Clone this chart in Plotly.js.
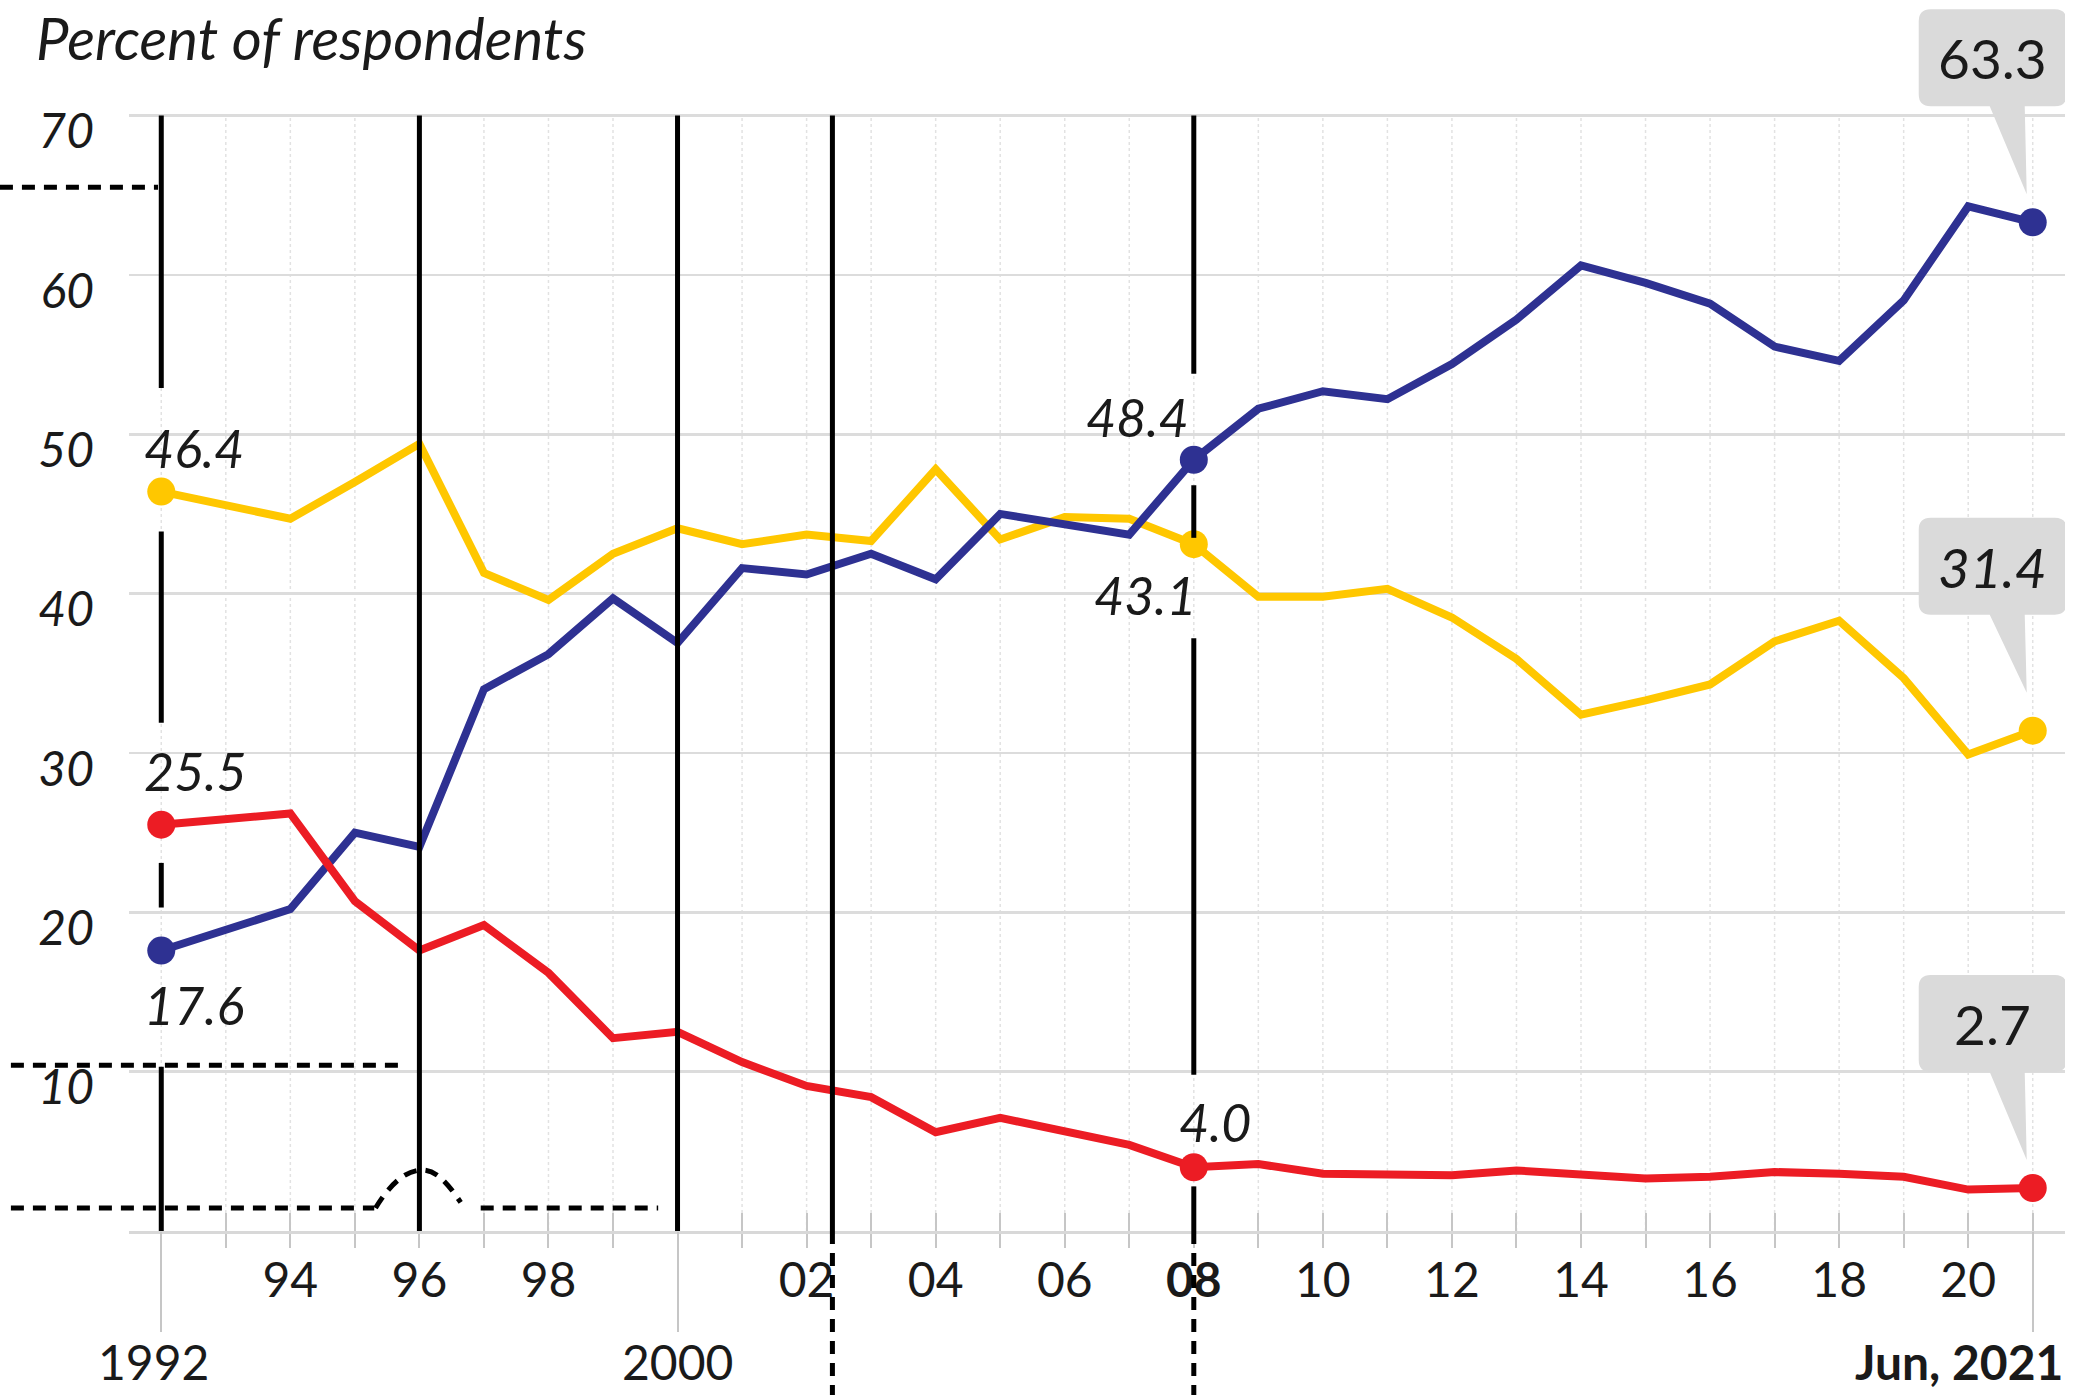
<!DOCTYPE html>
<html>
<head>
<meta charset="utf-8">
<script src="https://cdn.plot.ly/plotly-3.0.1.min.js"></script>
<style>
html,body{margin:0;padding:0;background:#ffffff;}
#chart{width:2080px;height:1395px;}
</style>
</head>
<body>
<div id="chart"></div>
<script>
// ---------------- DATA ----------------
const years = [1992,1994,1995,1996,1997,1998,1999,2000,2001,2002,2003,2004,2005,2006,2007,2008,2009,2010,2011,2012,2013,2014,2015,2016,2017,2018,2019,2020,2021];
const seriesBlue   = [17.6,20.2,25.0,24.1,34.0,36.2,39.7,36.9,41.6,41.2,42.5,40.9,45.0,44.3,43.7,48.4,51.6,52.7,52.2,54.4,57.2,60.6,59.5,58.2,55.5,54.6,58.4,64.3,63.3];
const seriesYellow = [46.4,44.7,47.0,49.4,41.3,39.6,42.5,44.1,43.1,43.7,43.3,47.8,43.4,44.8,44.7,43.1,39.8,39.8,40.3,38.5,35.9,32.4,33.3,34.3,37.0,38.3,34.7,29.9,31.4];
const seriesRed    = [25.5,26.2,20.7,17.6,19.2,16.2,12.1,12.5,10.6,9.1,8.4,6.2,7.1,6.3,5.4,4.0,4.2,3.6,3.6,3.5,3.8,3.5,3.3,3.4,3.7,3.6,3.4,2.6,2.7];

const yTickVals = [10,20,30,40,50,60,70];
const tickYears = [1992,1993,1994,1995,1996,1997,1998,1999,2000,2001,2002,2003,2004,2005,2006,2007,2008,2009,2010,2011,2012,2013,2014,2015,2016,2017,2018,2019,2020,2021];
const tickText  = ['','','94','','96','','98','','','','02','','04','','06','','<b>08</b>','','10','','12','','14','','16','','18','','20',''];
const row2Years = [1992, 2000];
const row2Text  = ['1992', '2000'];
const lastLabel = 'Jun, 2021';
const titleText = 'Percent of respondents';

// ---------------- STYLE / DECORATION ----------------
const FONT = 'Lato, "Open Sans", sans-serif';
const INK = '#1a1a1a';
const BLUE = '#2e3192', YELLOW = '#ffc700', RED = '#ec1c24';
const X_RANGE = [1991.5, 2021.5];
const Y_RANGE = [0, 77];
const px = yr => (yr - X_RANGE[0]) / (X_RANGE[1] - X_RANGE[0]);

const last = years.length - 1;
const i2008 = years.indexOf(2008);
const keyIdx = [0, i2008, last];

const traces = [];
function addSeries(vals, color) {
  traces.push({type:'scatter', mode:'lines', x:years, y:vals,
    line:{color:color, width:8}, hoverinfo:'skip', showlegend:false});
  traces.push({type:'scatter', mode:'markers', x:keyIdx.map(i=>years[i]), y:keyIdx.map(i=>vals[i]),
    marker:{color:color, size:28}, hoverinfo:'skip', showlegend:false});
}
addSeries(seriesYellow, YELLOW);
addSeries(seriesBlue, BLUE);
addSeries(seriesRed, RED);
// dummy traces so that overlay tick axes are drawn
traces.push({type:'scatter', mode:'lines', x:[X_RANGE[0]], y:[null], xaxis:'x2', yaxis:'y', hoverinfo:'skip', showlegend:false});
traces.push({type:'scatter', mode:'lines', x:[X_RANGE[0]], y:[null], xaxis:'x3', yaxis:'y', hoverinfo:'skip', showlegend:false});

const shapes = [];
// faint dotted vertical grid at each year
tickYears.forEach(yr => shapes.push({type:'line', xref:'x', yref:'y', x0:yr, x1:yr, y0:0, y1:70,
  line:{color:'#e2e2e2', width:1.5, dash:'dot'}, layer:'below'}));

// black vertical lines (segments in value units)
const blackLines = [
  {x:1992,   segs:[[70,52.9],[43.9,31.9],[23.1,20.3],[10.3,0]]},
  {x:1996,   segs:[[70,0]]},
  {x:2000,   segs:[[70,0]]},
  {x:2002.4, segs:[[70,0]]},
  {x:2008,   segs:[[70,53.8],[46.8,43.5],[37.2,9.8],[2.8,0]]}
];
blackLines.forEach(b => b.segs.forEach(s => shapes.push({type:'line', xref:'x', yref:'y',
  x0:b.x, x1:b.x, y0:s[0], y1:s[1], line:{color:'#000', width:5}, layer:'above'})));

const DASH = {color:'#000', width:5, dash:'13px,9px'};
// dashed lines below the axis
[2002.4, 2008].forEach(x => shapes.push({type:'line', xref:'x', yref:'paper', x0:x, x1:x, y0:0, y1:-0.2, line:DASH, layer:'above'}));
// dashed horizontal lines on the left
shapes.push({type:'line', xref:'paper', yref:'y', x0:px(1989.5), x1:px(1991.95), y0:65.5, y1:65.5, line:DASH, layer:'above'});
shapes.push({type:'line', xref:'paper', yref:'y', x0:px(1989.67), x1:px(1995.74), y0:10.4, y1:10.4, line:DASH, layer:'above'});
shapes.push({type:'line', xref:'paper', yref:'y', x0:px(1989.67), x1:px(1995.3), y0:1.44, y1:1.44, line:DASH, layer:'above'});
shapes.push({type:'path', xref:'x', yref:'y',
  path:'M1995.32,1.44 C1995.55,3.0 1995.8,3.83 1996.05,3.83 C1996.3,3.83 1996.5,2.6 1996.64,1.8',
  line:DASH, layer:'above'});
shapes.push({type:'line', xref:'x', yref:'y', x0:1996.95, x1:1999.7, y0:1.44, y1:1.44, line:DASH, layer:'above'});

// callout bubbles at the last point of each series (pixel offsets from the point)
function bubblePath(tipUp) {
  const L=-114, R=34, B=116, T=213, r=12;
  return `M${L+r},${T} L${R-r},${T} Q${R},${T} ${R},${T-r} L${R},${B+r} Q${R},${B} ${R-r},${B} `+
         `L-8,${B} L-6,${tipUp} L-43,${B} L${L+r},${B} Q${L},${B} ${L},${B+r} L${L},${T-r} Q${L},${T} ${L+r},${T} Z`;
}
const callouts = [
  {vals:seriesBlue, italic:false, tip:28},
  {vals:seriesYellow, italic:true, tip:38},
  {vals:seriesRed, italic:false, tip:28}
];
callouts.forEach(c => shapes.push({type:'path', xref:'x', yref:'y', xsizemode:'pixel', ysizemode:'pixel',
  xanchor:years[last], yanchor:c.vals[last], path:bubblePath(c.tip),
  fillcolor:'#dadada', line:{width:0}, layer:'above'}));

const annotations = [];
callouts.forEach(c => annotations.push({xref:'x', yref:'y', x:years[last], y:c.vals[last],
  text:c.vals[last].toFixed(1), showarrow:false, xanchor:'center', yanchor:'middle', xshift:-40, yshift:164,
  font:{family:FONT, size:55, color:INK, style:c.italic?'italic':'normal'}}));

// point labels
const pointLabels = [
  {vals:seriesYellow, i:0,     xanchor:'left',  xshift:-19, yshift:44},
  {vals:seriesRed,    i:0,     xanchor:'left',  xshift:-19, yshift:54},
  {vals:seriesBlue,   i:0,     xanchor:'left',  xshift:-19, yshift:-54},
  {vals:seriesBlue,   i:i2008, xanchor:'right', xshift:-3,  yshift:43},
  {vals:seriesYellow, i:i2008, xanchor:'right', xshift:5,   yshift:-51},
  {vals:seriesRed,    i:i2008, xanchor:'left',  xshift:-17, yshift:45}
];
pointLabels.forEach(p => annotations.push({xref:'x', yref:'y', x:years[p.i], y:p.vals[p.i],
  text:p.vals[p.i].toFixed(1), showarrow:false, xanchor:p.xanchor, yanchor:'middle', xshift:p.xshift, yshift:p.yshift,
  font:{family:FONT, size:52, color:INK, style:'italic'}}));

// second row of x labels
row2Years.forEach((yr, k) => annotations.push({xref:'x', yref:'paper', x:yr, y:0, text:row2Text[k], showarrow:false,
  xanchor:'center', yanchor:'middle', yshift:-130, xshift:(k===0?-8:0),
  font:{family:FONT, size:48, color:INK}}));
annotations.push({xref:'paper', yref:'paper', x:1, y:0, text:'<b>'+lastLabel+'</b>', showarrow:false,
  xanchor:'right', yanchor:'middle', yshift:-130, font:{family:FONT, size:48, color:INK}});

const tickGray = '#c6c6c6';
const layout = {
  width:2080, height:1395,
  margin:{l:129, r:15, t:4, b:164, pad:0},
  paper_bgcolor:'#ffffff', plot_bgcolor:'#ffffff',
  showlegend:false,
  title:{text:titleText, x:36/2080, xanchor:'left', y:1-40/1395, yanchor:'middle', xref:'container', yref:'container',
    font:{family:FONT, size:58, color:INK, style:'italic'}},
  xaxis:{range:X_RANGE, tickmode:'array', tickvals:tickYears, ticktext:tickText,
    ticks:'outside', ticklen:14, tickwidth:2, tickcolor:tickGray, ticklabelstandoff:-9,
    showgrid:false, zeroline:false, showline:true, linecolor:'#d8d8d8', linewidth:3,
    tickfont:{family:FONT, size:48, color:INK}, fixedrange:true},
  xaxis2:{range:X_RANGE, overlaying:'x', anchor:'y', side:'bottom', tickmode:'array', tickvals:tickYears,
    ticks:'inside', ticklen:18, tickwidth:2, tickcolor:tickGray, showticklabels:false,
    showgrid:false, zeroline:false, showline:false},
  xaxis3:{range:X_RANGE, overlaying:'x', anchor:'y', side:'bottom', tickmode:'array', tickvals:[1992,2000,2021],
    ticks:'outside', ticklen:100, tickwidth:2, tickcolor:tickGray, showticklabels:false,
    showgrid:false, zeroline:false, showline:false},
  yaxis:{range:Y_RANGE, tickmode:'array', tickvals:yTickVals, ticks:'', showgrid:true, gridcolor:'#dcdcdc', gridwidth:2.5,
    zeroline:false, showline:false, ticklabelstandoff:34, ticklabelshift:16,
    tickfont:{family:FONT, size:48, color:INK, style:'italic'}, fixedrange:true},
  shapes:shapes,
  annotations:annotations
};

Plotly.newPlot('chart', traces, layout, {displayModeBar:false, staticPlot:true});
</script>
</body>
</html>
